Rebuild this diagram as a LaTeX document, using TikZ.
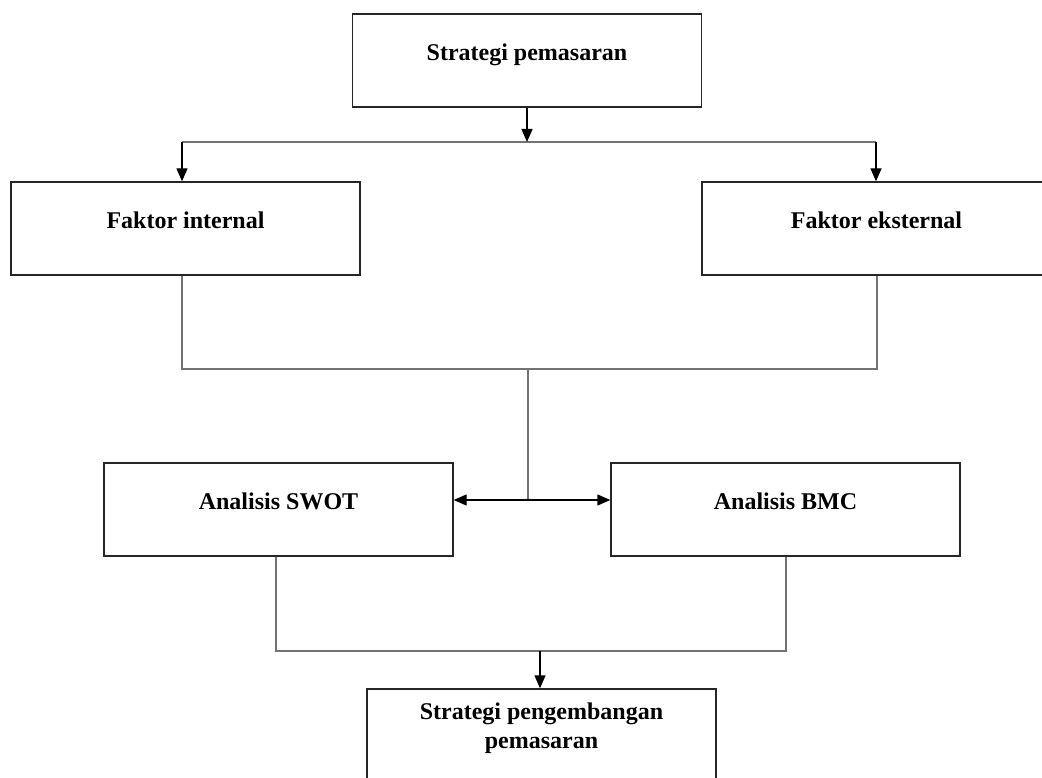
\documentclass[tikz,border=0pt]{standalone}
\usepackage{fontspec}
\setmainfont{Liberation Serif}
\usetikzlibrary{arrows.meta}
\tikzset{
  kotak/.style={draw=black!85, line width=1.4pt, minimum width=349pt, minimum height=93pt,
    inner sep=0pt, align=center, font=\fontsize{24}{29}\selectfont\bfseries,
    text height=17pt, text depth=17pt},
  garis/.style={draw=black!55, line width=1.2pt},
  panah/.style={draw=black, line width=1.4pt, -{Triangle[length=13pt,width=11pt]}}
}
\begin{document}
\begin{tikzpicture}[x=1pt,y=-1pt]
\useasboundingbox (0,0) rectangle (1042,778);
% kotak-kotak
\node[kotak] (strat) at (527,60.5) {Strategi pemasaran};
\node[kotak] (intern) at (185.5,228.5) {Faktor internal};
\node[kotak] (ekstern) at (876.5,228.5) {Faktor eksternal};
\node[kotak] (swot) at (278.5,509.5) {Analisis SWOT};
\node[kotak] (bmc) at (785.5,509.5) {Analisis BMC};
\node[kotak, text height=42pt, text depth=17pt] (hasil) at (541.5,735.5) {Strategi pengembangan\\pemasaran};
% cabang atas
\coordinate (kiriA) at (182,142); \coordinate (kananA) at (876,142);
\draw[garis] (kiriA) -- (kananA);
\draw[panah] (strat.south) -- (strat.south |- kiriA);
\draw[panah] (kiriA) -- (kiriA |- intern.north);
\draw[panah] (kananA) -- (kananA |- ekstern.north);
% gabungan faktor
\coordinate (kiriB) at (182,369); \coordinate (kananB) at (877,369);
\coordinate (tengahB) at (528,369); \coordinate (temu) at (528,500);
\draw[garis] (kiriB |- intern.south) -- (kiriB) -- (kananB) -- (kananB |- ekstern.south);
\draw[garis] (tengahB) -- (temu);
\draw[panah] (temu) -- (temu -| swot.east);
\draw[panah] (temu) -- (temu -| bmc.west);
% gabungan analisis
\coordinate (kiriC) at (276,651); \coordinate (kananC) at (786,651);
\coordinate (tengahC) at (540,651);
\draw[garis] (kiriC |- swot.south) -- (kiriC) -- (kananC) -- (kananC |- bmc.south);
\draw[panah] (tengahC) -- (tengahC |- hasil.north);
\end{tikzpicture}
\end{document}
